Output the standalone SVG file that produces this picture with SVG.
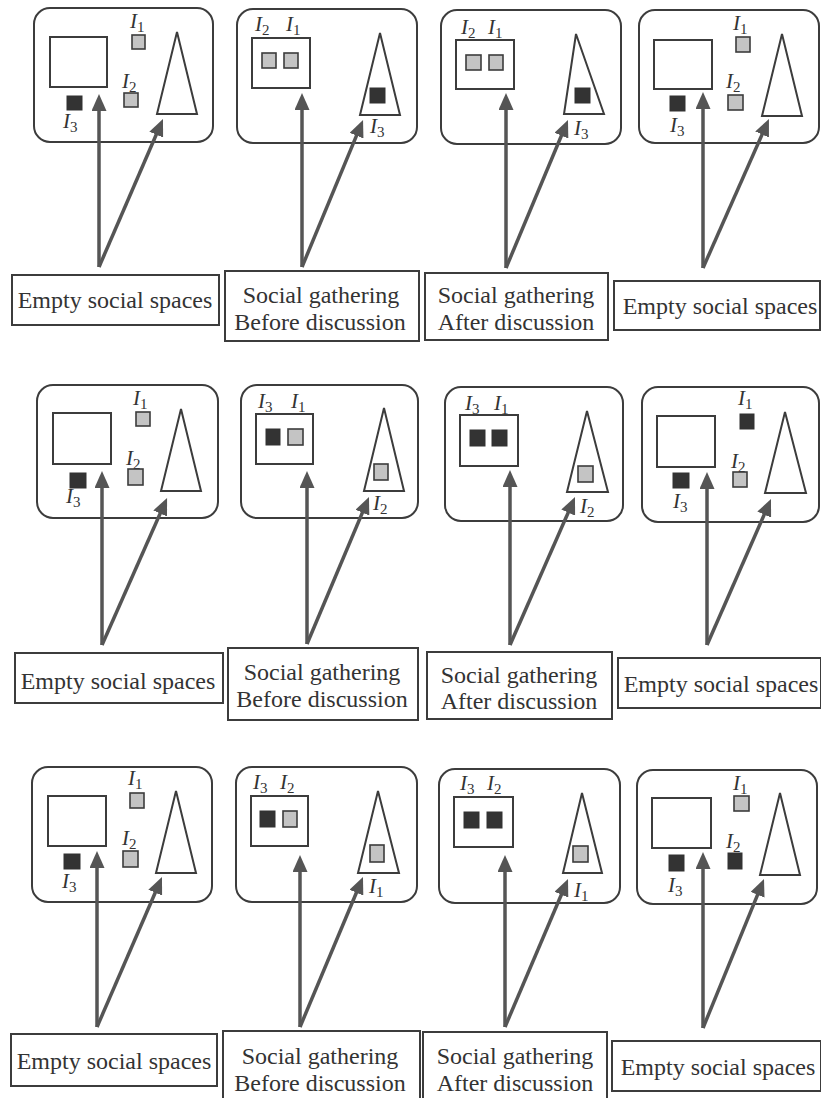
<svg xmlns="http://www.w3.org/2000/svg" width="821" height="1098" viewBox="0 0 821 1098">
<style>
.panel{fill:none;stroke:#3c3c3c;stroke-width:2}
.room{fill:none;stroke:#3c3c3c;stroke-width:2}
.tri{fill:none;stroke:#3c3c3c;stroke-width:2;stroke-linejoin:miter}
.g{fill:#c4c4c4;stroke:#3c3c3c;stroke-width:1.6}
.b{fill:#333;stroke:#333;stroke-width:1}
.box{fill:#fff;stroke:#3c3c3c;stroke-width:2}
.t{font-family:"Liberation Serif","Times New Roman",serif;font-size:24px;fill:#333;text-anchor:middle}
.i{font-family:"Liberation Serif","Times New Roman",serif;font-size:21px;font-style:italic;fill:#333}
.s{font-size:15px;font-style:normal}
.arr{stroke:#555;stroke-width:3.5;fill:none;marker-end:url(#ah)}
</style>
<defs>
<marker id="ah" markerUnits="userSpaceOnUse" markerWidth="17" markerHeight="15" viewBox="0 0 17 15" refX="7" refY="7.5" orient="auto">
<path d="M0,0 L17,7.5 L0,15 z" fill="#555"/>
</marker>
</defs>
<rect width="821" height="1098" fill="#fff"/>

<!-- Row 1 -->
<g id="panel-r1c1">
<rect class="panel" x="34" y="8" width="179" height="134" rx="16"/>
<rect class="room" x="50" y="37" width="57" height="50"/>
<text class="i" x="130" y="28">I<tspan class="s" dy="4">1</tspan></text>
<rect class="g" x="132" y="35" width="13" height="14"/>
<text class="i" x="122" y="88">I<tspan class="s" dy="4">2</tspan></text>
<rect class="g" x="124" y="93" width="14" height="14"/>
<rect class="b" x="67" y="96" width="15" height="14"/>
<text class="i" x="63" y="128">I<tspan class="s" dy="4">3</tspan></text>
<polygon class="tri" points="177,32 157,114 197,114"/>
</g>
<g id="panel-r1c2">
<rect class="panel" x="237" y="9" width="180" height="134" rx="16"/>
<rect class="room" x="252" y="38" width="58" height="50"/>
<rect class="g" x="262" y="53" width="14" height="15"/>
<rect class="g" x="284" y="53" width="14" height="15"/>
<text class="i" x="255" y="31">I<tspan class="s" dy="4">2</tspan></text>
<text class="i" x="286" y="31">I<tspan class="s" dy="4">1</tspan></text>
<polygon class="tri" points="380,33 360,115 400,115"/>
<rect class="b" x="370" y="88" width="15" height="15"/>
<text class="i" x="370" y="133">I<tspan class="s" dy="4">3</tspan></text>
</g>
<g id="panel-r1c3">
<rect class="panel" x="441" y="10" width="180" height="134" rx="16"/>
<rect class="room" x="456" y="40" width="58" height="49"/>
<rect class="g" x="466" y="55" width="15" height="15"/>
<rect class="g" x="489" y="55" width="14" height="15"/>
<text class="i" x="461" y="34">I<tspan class="s" dy="4">2</tspan></text>
<text class="i" x="488" y="34">I<tspan class="s" dy="4">1</tspan></text>
<polygon class="tri" points="576,34 564,114 604,114"/>
<rect class="b" x="575" y="88" width="15" height="15"/>
<text class="i" x="574" y="135">I<tspan class="s" dy="4">3</tspan></text>
</g>
<g id="panel-r1c4">
<rect class="panel" x="639" y="10" width="180" height="133" rx="16"/>
<rect class="room" x="654" y="40" width="58" height="49"/>
<text class="i" x="733" y="30">I<tspan class="s" dy="4">1</tspan></text>
<rect class="g" x="736" y="37" width="14" height="15"/>
<text class="i" x="726" y="88">I<tspan class="s" dy="4">2</tspan></text>
<rect class="g" x="728" y="95" width="15" height="15"/>
<rect class="b" x="670" y="96" width="15" height="15"/>
<text class="i" x="670" y="132">I<tspan class="s" dy="4">3</tspan></text>
<polygon class="tri" points="782,34 762,116 802,116"/>
</g>

<g id="label-r1c1"><rect class="box" x="12" y="275" width="207" height="50"/><text class="t" x="115" y="308">Empty social spaces</text></g>
<g id="label-r1c2"><rect class="box" x="225" y="271" width="194" height="70"/><text class="t" x="321" y="303">Social gathering</text><text class="t" x="320" y="330">Before discussion</text></g>
<g id="label-r1c3"><rect class="box" x="425" y="273" width="183" height="67"/><text class="t" x="516" y="303">Social gathering</text><text class="t" x="516" y="330">After discussion</text></g>
<g id="label-r1c4"><rect class="box" x="614" y="281" width="206" height="49"/><text class="t" x="720" y="314">Empty social spaces</text></g>

<!-- Row 2 -->
<g id="panel-r2c1">
<rect class="panel" x="37" y="385" width="181" height="133" rx="16"/>
<rect class="room" x="53" y="413" width="58" height="51"/>
<text class="i" x="133" y="405">I<tspan class="s" dy="4">1</tspan></text>
<rect class="g" x="136" y="412" width="14" height="14"/>
<text class="i" x="126" y="465">I<tspan class="s" dy="4">2</tspan></text>
<rect class="g" x="128" y="469" width="15" height="16"/>
<rect class="b" x="70" y="473" width="16" height="15"/>
<text class="i" x="66" y="503">I<tspan class="s" dy="4">3</tspan></text>
<polygon class="tri" points="181,409 161,491 201,491"/>
</g>
<g id="panel-r2c2">
<rect class="panel" x="241" y="385" width="177" height="133" rx="16"/>
<rect class="room" x="256" y="414" width="57" height="50"/>
<rect class="b" x="266" y="429" width="14" height="16"/>
<rect class="g" x="288" y="429" width="15" height="16"/>
<text class="i" x="258" y="408">I<tspan class="s" dy="4">3</tspan></text>
<text class="i" x="291" y="408">I<tspan class="s" dy="4">1</tspan></text>
<polygon class="tri" points="384,408 364,491 404,491"/>
<rect class="g" x="374" y="464" width="14" height="16"/>
<text class="i" x="373" y="510">I<tspan class="s" dy="4">2</tspan></text>
</g>
<g id="panel-r2c3">
<rect class="panel" x="445" y="387" width="178" height="134" rx="16"/>
<rect class="room" x="460" y="415" width="58" height="51"/>
<rect class="b" x="470" y="430" width="15" height="16"/>
<rect class="b" x="492" y="430" width="15" height="16"/>
<text class="i" x="465" y="410">I<tspan class="s" dy="4">3</tspan></text>
<text class="i" x="494" y="410">I<tspan class="s" dy="4">1</tspan></text>
<polygon class="tri" points="587,411 567,492 608,492"/>
<rect class="g" x="578" y="466" width="15" height="16"/>
<text class="i" x="580" y="513">I<tspan class="s" dy="4">2</tspan></text>
</g>
<g id="panel-r2c4">
<rect class="panel" x="642" y="387" width="177" height="135" rx="16"/>
<rect class="room" x="657" y="416" width="58" height="51"/>
<text class="i" x="738" y="405">I<tspan class="s" dy="4">1</tspan></text>
<rect class="b" x="740" y="414" width="14" height="15"/>
<text class="i" x="731" y="468">I<tspan class="s" dy="4">2</tspan></text>
<rect class="g" x="733" y="472" width="14" height="15"/>
<rect class="b" x="673" y="473" width="16" height="15"/>
<text class="i" x="673" y="508">I<tspan class="s" dy="4">3</tspan></text>
<polygon class="tri" points="785,412 765,493 806,493"/>
</g>

<g id="label-r2c1"><rect class="box" x="15" y="653" width="208" height="50"/><text class="t" x="118" y="689">Empty social spaces</text></g>
<g id="label-r2c2"><rect class="box" x="228" y="648" width="190" height="72"/><text class="t" x="322" y="680">Social gathering</text><text class="t" x="322" y="707">Before discussion</text></g>
<g id="label-r2c3"><rect class="box" x="427" y="652" width="185" height="67"/><text class="t" x="519" y="683">Social gathering</text><text class="t" x="519" y="709">After discussion</text></g>
<g id="label-r2c4"><rect class="box" x="618" y="658" width="203" height="50"/><text class="t" x="721" y="692">Empty social spaces</text></g>

<!-- Row 3 -->
<g id="panel-r3c1">
<rect class="panel" x="32" y="767" width="180" height="135" rx="16"/>
<rect class="room" x="48" y="796" width="58" height="50"/>
<text class="i" x="128" y="785">I<tspan class="s" dy="4">1</tspan></text>
<rect class="g" x="130" y="793" width="14" height="15"/>
<text class="i" x="122" y="845">I<tspan class="s" dy="4">2</tspan></text>
<rect class="g" x="123" y="851" width="15" height="16"/>
<rect class="b" x="64" y="854" width="16" height="15"/>
<text class="i" x="62" y="888">I<tspan class="s" dy="4">3</tspan></text>
<polygon class="tri" points="176,791 156,873 196,873"/>
</g>
<g id="panel-r3c2">
<rect class="panel" x="236" y="767" width="181" height="135" rx="16"/>
<rect class="room" x="251" y="796" width="57" height="50"/>
<rect class="b" x="260" y="811" width="15" height="16"/>
<rect class="g" x="283" y="811" width="14" height="16"/>
<text class="i" x="253" y="789">I<tspan class="s" dy="4">3</tspan></text>
<text class="i" x="280" y="789">I<tspan class="s" dy="4">2</tspan></text>
<polygon class="tri" points="378,791 358,873 399,873"/>
<rect class="g" x="370" y="845" width="14" height="17"/>
<text class="i" x="369" y="893">I<tspan class="s" dy="4">1</tspan></text>
</g>
<g id="panel-r3c3">
<rect class="panel" x="439" y="769" width="181" height="134" rx="16"/>
<rect class="room" x="454" y="797" width="59" height="50"/>
<rect class="b" x="464" y="812" width="15" height="16"/>
<rect class="b" x="487" y="812" width="15" height="16"/>
<text class="i" x="460" y="790">I<tspan class="s" dy="4">3</tspan></text>
<text class="i" x="487" y="790">I<tspan class="s" dy="4">2</tspan></text>
<polygon class="tri" points="582,793 563,873 602,873"/>
<rect class="g" x="573" y="846" width="15" height="16"/>
<text class="i" x="574" y="897">I<tspan class="s" dy="4">1</tspan></text>
</g>
<g id="panel-r3c4">
<rect class="panel" x="637" y="770" width="180" height="134" rx="16"/>
<rect class="room" x="652" y="798" width="59" height="50"/>
<text class="i" x="733" y="790">I<tspan class="s" dy="4">1</tspan></text>
<rect class="g" x="734" y="796" width="15" height="15"/>
<text class="i" x="726" y="848">I<tspan class="s" dy="4">2</tspan></text>
<rect class="b" x="728" y="853" width="14" height="16"/>
<rect class="b" x="669" y="855" width="15" height="16"/>
<text class="i" x="668" y="892">I<tspan class="s" dy="4">3</tspan></text>
<polygon class="tri" points="780,793 760,875 800,875"/>
</g>

<g id="label-r3c1"><rect class="box" x="11" y="1034" width="206" height="52"/><text class="t" x="114" y="1069">Empty social spaces</text></g>
<g id="label-r3c2"><rect class="box" x="223" y="1031" width="197" height="72"/><text class="t" x="320" y="1064">Social gathering</text><text class="t" x="320" y="1091">Before discussion</text></g>
<g id="label-r3c3"><rect class="box" x="423" y="1032" width="184" height="72"/><text class="t" x="515" y="1064">Social gathering</text><text class="t" x="515" y="1091">After discussion</text></g>
<g id="label-r3c4"><rect class="box" x="612" y="1041" width="209" height="50"/><text class="t" x="718" y="1075">Empty social spaces</text></g>

<g id="connectors">
<line class="arr" x1="99" y1="267" x2="99" y2="104"/>
<line class="arr" x1="99" y1="267" x2="159" y2="128.2"/>
<line class="arr" x1="302" y1="267" x2="302" y2="103"/>
<line class="arr" x1="302" y1="267" x2="359.2" y2="129.2"/>
<line class="arr" x1="506" y1="268" x2="506" y2="103"/>
<line class="arr" x1="506" y1="268" x2="564.1" y2="129.2"/>
<line class="arr" x1="703" y1="268" x2="703" y2="102"/>
<line class="arr" x1="703" y1="268" x2="764.9" y2="128.1"/>

<line class="arr" x1="102" y1="645" x2="102" y2="481"/>
<line class="arr" x1="102" y1="645" x2="163" y2="507.1"/>
<line class="arr" x1="307" y1="644" x2="307" y2="481"/>
<line class="arr" x1="307" y1="644" x2="365.1" y2="506.2"/>
<line class="arr" x1="510" y1="645" x2="510" y2="480"/>
<line class="arr" x1="510" y1="645" x2="571" y2="506.2"/>
<line class="arr" x1="707" y1="645" x2="707" y2="482"/>
<line class="arr" x1="707" y1="645" x2="767" y2="508.2"/>

<line class="arr" x1="97" y1="1027" x2="97" y2="861"/>
<line class="arr" x1="97" y1="1027" x2="158" y2="886.2"/>
<line class="arr" x1="300" y1="1027" x2="300" y2="865"/>
<line class="arr" x1="300" y1="1027" x2="359.1" y2="886.2"/>
<line class="arr" x1="505" y1="1027" x2="505" y2="865"/>
<line class="arr" x1="505" y1="1027" x2="564.1" y2="888.2"/>
<line class="arr" x1="703" y1="1028" x2="703" y2="862"/>
<line class="arr" x1="703" y1="1028" x2="760.2" y2="888.3"/>
</g>
</svg>
